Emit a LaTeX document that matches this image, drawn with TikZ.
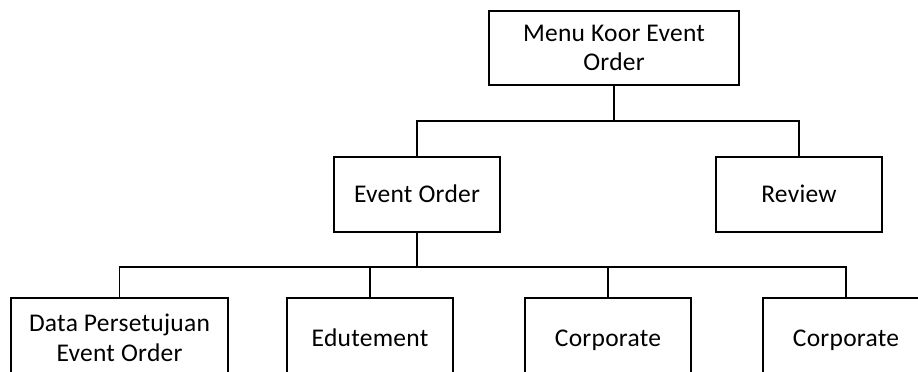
\documentclass[tikz,border=0pt]{standalone}
\usepackage{fontspec}
\setmainfont[LetterSpace=1]{Carlito}
\begin{document}
\begin{tikzpicture}[x=1pt,y=-1pt,
  box/.style={draw, line width=1.4pt, inner sep=0pt, align=center,
    font=\fontsize{25.5}{29.5}\selectfont},
  oneline/.style={box, text height=16pt, text depth=0pt},
  link/.style={line width=1.4pt}]
\useasboundingbox (0,0) rectangle (918,372);
\clip (0,0) rectangle (918,372);

% top level
\node[box, minimum width=250pt, minimum height=74pt] (top) at (614,48) {Menu Koor Event\\Order};

% second level
\node[oneline, minimum width=166pt, minimum height=75pt] (eo) at (417,194.5) {Event Order};
\node[oneline, minimum width=166pt, minimum height=75pt] (rv) at (799,194.5) {Review};

% third level (boxes run past the lower edge)
\node[box, minimum width=217pt, minimum height=80pt] (d1) at (119.5,338) {Data Persetujuan\\Event Order};
\node[oneline, minimum width=166pt, minimum height=80pt] (d2) at (370,338) {Edutement};
\node[oneline, minimum width=166pt, minimum height=80pt] (d3) at (608,338) {Corporate};
\node[oneline, minimum width=166pt, minimum height=80pt] (d4) at (846,338) {Corporate};

% bus lines
\coordinate (b1) at (0,121);
\coordinate (b2) at (0,267);

\draw[link] (top.south) -- (top.south |- b1);
\draw[link] (eo.north) -- (eo.north |- b1) -- (rv.north |- b1) -- (rv.north);

\draw[link] (eo.south) -- (eo.south |- b2);
\draw[link] (d1.north) -- (d1.north |- b2) -- (d4.north |- b2) -- (d4.north);
\draw[link] (d2.north) -- (d2.north |- b2);
\draw[link] (d3.north) -- (d3.north |- b2);
\end{tikzpicture}
\end{document}
